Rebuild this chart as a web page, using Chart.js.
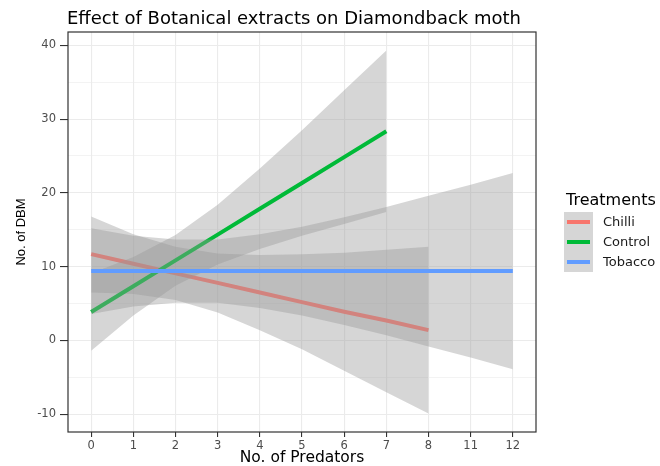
<!DOCTYPE html>
<html lang="en">
<head>
    <meta charset="UTF-8">
    <title>Effect of Botanical extracts on Diamondback moth</title>
    <script src="https://cdn.jsdelivr.net/npm/chart.js"></script>
    <style>
        body { margin: 0; background: #fff; overflow: hidden; }
        .wrap { position: relative; width: 660px; height: 466px; }
        #chart { position: absolute; left: 0; top: 0; }
        .title { position: absolute; left: 67px; top: 7px; font: 18px "DejaVu Sans", sans-serif; color: #000; white-space: nowrap; }
        .legend { position: absolute; left: 564px; top: 190px; font-family: "DejaVu Sans", sans-serif; white-space: nowrap; }
        .legend .head { font-size: 16px; color: #000; margin-left: 2px; height: 22px; }
        .legend .row { position: relative; height: 20px; }
        .legend .key { position: absolute; left: 0; top: 0; width: 29px; height: 20px; background: #d6d6d6; }
        .legend .key i { position: absolute; left: 3px; top: 8px; width: 23px; height: 4px; }
        .legend .row span { position: absolute; left: 39px; top: 2px; font-size: 13px; color: #1a1a1a; }
    </style>
</head>
<body>
<div class="wrap">
    <canvas id="chart" width="660" height="466"></canvas>
    <div class="title">Effect of Botanical extracts on Diamondback moth</div>
    <div class="legend" id="legend">
        <div class="head">Treatments</div>
    </div>
</div>
<script>
    // x categories (No. of Predators)
    const predators = ['0', '1', '2', '3', '4', '5', '6', '7', '8', '11', '12'];

    // fitted lines and confidence bands
    const chilliFit   = [11.7, 10.4, 9.1, 7.8, 6.5, 5.2, 3.9, 2.7, 1.4];
    const chilliUpper = [16.8, 14.4, 12.7, 11.8, 11.6, 11.7, 11.9, 12.3, 12.7];
    const chilliLower = [6.5, 6.3, 5.5, 3.8, 1.4, -1.2, -4.1, -7.0, -9.9];

    const controlFit   = [3.85, 7.35, 10.85, 14.35, 17.85, 21.35, 24.85, 28.35];
    const controlUpper = [9.1, 11.3, 14.3, 18.4, 23.3, 28.5, 33.9, 39.3];
    const controlLower = [-1.4, 3.4, 7.4, 10.3, 12.4, 14.2, 15.8, 17.4];

    const tobaccoFit   = [9.4, 9.4, 9.4, 9.4, 9.4, 9.4, 9.4, 9.4, 9.4, 9.4, 9.4];
    const tobaccoUpper = [15.2, 14.2, 13.7, 13.7, 14.4, 15.4, 16.7, 18.1, 19.6, 21.1, 22.7];
    const tobaccoLower = [3.6, 4.6, 5.1, 5.1, 4.4, 3.4, 2.1, 0.7, -0.8, -2.3, -3.9];

    const treatments = ['Chilli', 'Control', 'Tobacco'];
    const colors = ['#F8766D', '#00BA38', '#619CFF'];
    const bandFill = 'rgba(153, 153, 153, 0.4)';

    const pts = arr => arr.map((v, i) => ({x: i, y: v}));

    // first dataset is drawn on top, so tobacco goes first (as in ggplot group order)
    function group(fit, upper, lower, color) {
        return [
            {data: pts(fit), borderColor: color, borderWidth: 4, borderCapStyle: 'butt', fill: false},
            {data: pts(upper), borderWidth: 0, borderColor: 'transparent', backgroundColor: bandFill, fill: '+1'},
            {data: pts(lower), borderWidth: 0, borderColor: 'transparent', fill: false}
        ];
    }

    const datasets = [].concat(
        group(tobaccoFit, tobaccoUpper, tobaccoLower, colors[2]),
        group(controlFit, controlUpper, controlLower, colors[1]),
        group(chilliFit, chilliUpper, chilliLower, colors[0])
    );

    const panelBorder = {
        id: 'panelBorder',
        afterDatasetsDraw(chart) {
            const a = chart.chartArea;
            const ctx = chart.ctx;
            ctx.save();
            ctx.strokeStyle = '#333333';
            ctx.lineWidth = 1.2;
            ctx.strokeRect(a.left, a.top, a.right - a.left, a.bottom - a.top);
            ctx.restore();
        }
    };

    const tickFont = {family: 'DejaVu Sans', size: 11.5};

    new Chart(document.getElementById('chart'), {
        type: 'line',
        data: {datasets: datasets},
        plugins: [panelBorder],
        options: {
            responsive: false,
            animation: false,
            devicePixelRatio: 1,
            layout: {padding: {left: 0, right: 124, top: 32, bottom: 0}},
            elements: {point: {radius: 0, hoverRadius: 0}, line: {tension: 0}},
            plugins: {legend: {display: false}, tooltip: {enabled: false}},
            scales: {
                x: {
                    type: 'linear',
                    min: -0.55,
                    max: 10.55,
                    afterFit: s => { s.height = 34; },
                    border: {display: false},
                    grid: {color: '#EBEBEB', lineWidth: 1.1, tickColor: '#333333', tickLength: 5},
                    ticks: {
                        stepSize: 1,
                        includeBounds: false,
                        autoSkip: false,
                        maxRotation: 0,
                        padding: 2,
                        color: '#4D4D4D',
                        font: tickFont,
                        callback: v => predators[v] !== undefined ? predators[v] : ''
                    },
                    title: {
                        display: true,
                        text: 'No. of Predators',
                        color: '#000',
                        font: {family: 'DejaVu Sans', size: 15.5, lineHeight: 1},
                        padding: {top: 0, bottom: 0}
                    }
                },
                y: {
                    min: -12.4,
                    max: 41.8,
                    afterFit: s => { s.width = 68; },
                    border: {display: false},
                    grid: {
                        color: '#EBEBEB',
                        lineWidth: c => c.tick && c.tick.value % 10 === 0 ? 1.1 : 0.6,
                        tickColor: c => c.tick && c.tick.value % 10 === 0 ? '#333333' : 'transparent',
                        tickLength: 8
                    },
                    ticks: {
                        stepSize: 5,
                        includeBounds: false,
                        padding: 4,
                        color: '#4D4D4D',
                        font: tickFont,
                        callback: v => v % 10 === 0 ? v : ''
                    },
                    title: {
                        display: true,
                        text: 'No. of DBM',
                        color: '#000',
                        font: {family: 'Liberation Sans', size: 13, lineHeight: 1.2},
                        padding: {top: 14, bottom: 0}
                    }
                }
            }
        }
    });

    // legend
    const legend = document.getElementById('legend');
    treatments.forEach((name, i) => {
        const row = document.createElement('div');
        row.className = 'row';
        row.innerHTML = '<div class="key"><i style="background:' + colors[i] + '"></i></div><span>' + name + '</span>';
        legend.appendChild(row);
    });
</script>
</body>
</html>
